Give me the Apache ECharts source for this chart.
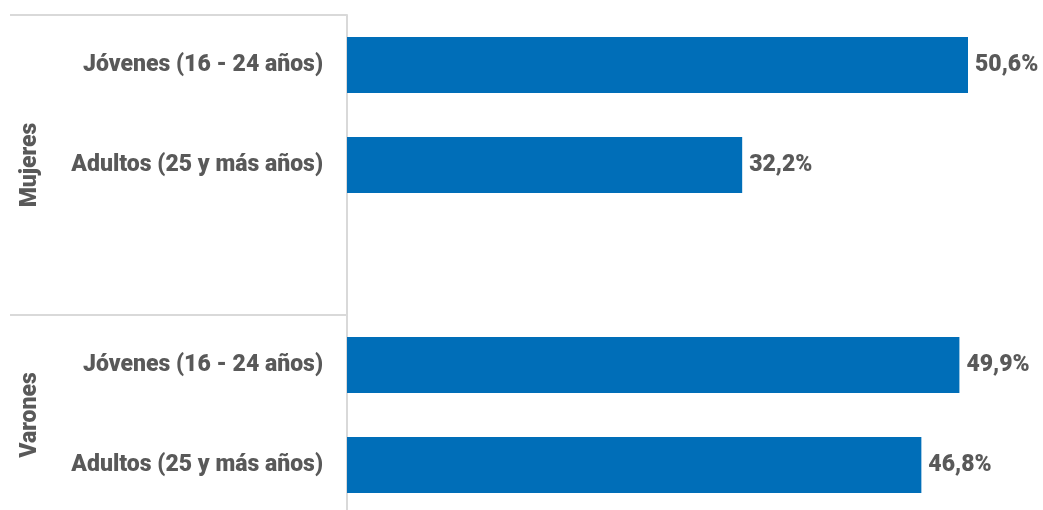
<!DOCTYPE html>
<html>
<head>
<meta charset="utf-8">
<style>
  html, body { margin: 0; padding: 0; background: #ffffff; }
  #chart { width: 1043px; height: 510px; }
</style>
<script src="https://cdn.jsdelivr.net/npm/echarts@6/dist/echarts.min.js"></script>
</head>
<body>
<div id="chart"></div>
<script>
// Categories (top to bottom); the empty entry is the gap between the two groups
const categories = ['Jóvenes (16 - 24 años)', 'Adultos (25 y más años)', '', 'Jóvenes (16 - 24 años)', 'Adultos (25 y más años)'];
const values = [50.6, 32.2, null, 49.9, 46.8];
// Groups: label and the category index range they cover
const groupNames = ['Mujeres', 'Varones'];
const groupStart = [0, 3];
const groupEnd = [2, 4];

const FONT = 'Roboto, "Noto Sans", sans-serif';
const WEIGHT = 900;
const SIZE = 23;
const TEXT = '#595959';
const LINE = '#d9d9d9';

const chart = echarts.init(document.getElementById('chart'), null, { renderer: 'canvas' });

chart.setOption({
  animation: false,
  grid: { left: 347, top: 15, width: 675, height: 500, outerBoundsMode: 'none', containLabel: false },
  xAxis: {
    type: 'value', min: 0, max: 55,
    show: false
  },
  yAxis: {
    type: 'category', inverse: true, data: categories,
    axisLine: { show: true, lineStyle: { color: LINE, width: 2 } },
    axisTick: { show: false },
    axisLabel: { margin: 24, color: TEXT, fontFamily: FONT, fontWeight: WEIGHT, fontSize: SIZE }
  },
  series: [{
    type: 'bar',
    data: values,
    barWidth: 56,
    itemStyle: { color: '#006eb8' },
    label: {
      show: true, position: 'right', distance: 7,
      color: TEXT, fontFamily: FONT, fontWeight: WEIGHT, fontSize: SIZE,
      formatter: p => p.value.toFixed(1).replace('.', ',') + '%'
    }
  }]
});

// Group separators and rotated group titles, placed from the category scale
function boundary(i) {
  const a = chart.convertToPixel({ yAxisIndex: 0 }, i);
  const b = chart.convertToPixel({ yAxisIndex: 0 }, i + 1);
  return a - (b - a) / 2;
}
const axisX = chart.convertToPixel({ xAxisIndex: 0 }, 0);
const elements = [];
groupNames.forEach((name, g) => {
  const top = boundary(groupStart[g]);
  const bottom = boundary(groupEnd[g] + 1);
  elements.push({
    type: 'line', silent: true,
    shape: { x1: 10, y1: top, x2: axisX, y2: top },
    style: { stroke: LINE, lineWidth: 2 }
  });
  elements.push({
    type: 'text', silent: true,
    x: 30, y: (top + bottom) / 2, rotation: Math.PI / 2,
    style: {
      text: name, fill: TEXT, font: WEIGHT + ' ' + SIZE + 'px ' + FONT,
      align: 'center', verticalAlign: 'middle'
    }
  });
});
chart.setOption({ graphic: elements });
</script>
</body>
</html>
